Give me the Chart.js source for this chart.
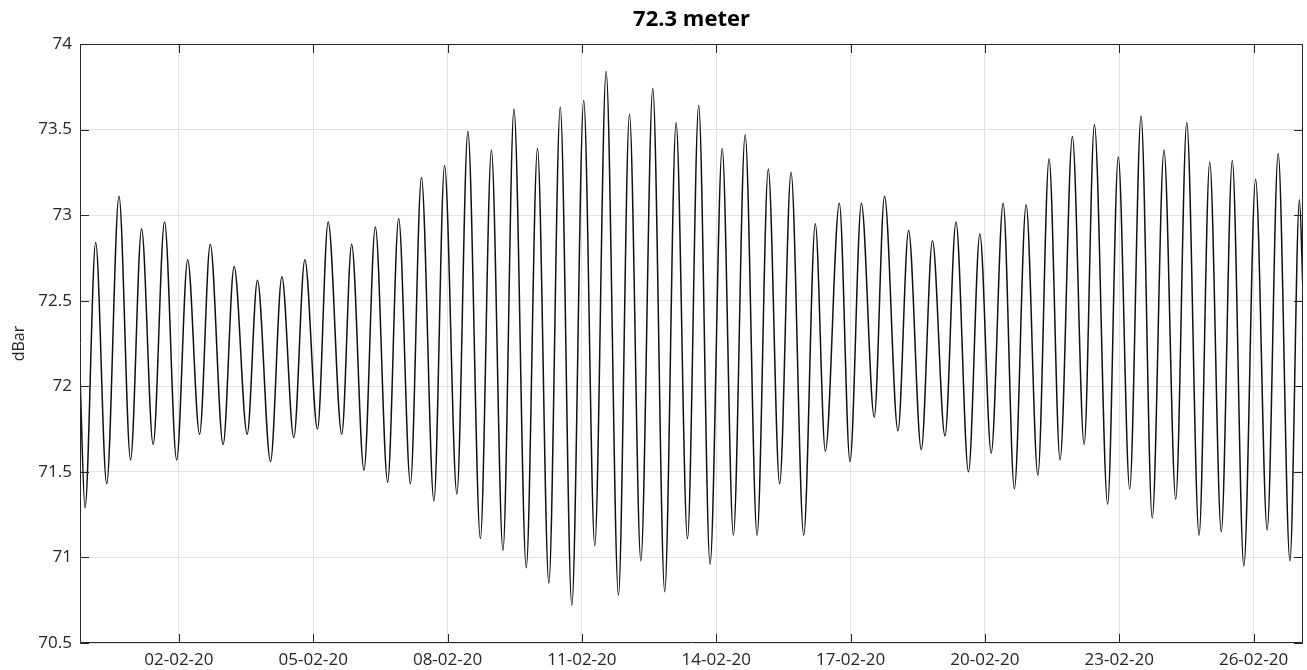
<!DOCTYPE html>
<html>
<head>
<meta charset="utf-8">
<script src="https://cdn.jsdelivr.net/npm/chart.js@4"></script>
<style>
  html, body { margin: 0; padding: 0; background: #fff; }
  #wrap { width: 1307px; height: 670px; }
</style>
</head>
<body>
<div id="wrap"><canvas id="c" width="1307" height="670"></canvas></div>
<script>
// Time of each high / low water, hours since 2020-01-30 00:00
const times = [
  19.0, 21.7, 27.4, 33.3, 39.9, 46.1, 52.0, 58.2, 64.3, 70.8,
  76.7, 83.1, 88.8, 95.7, 101.6, 108.6, 114.1, 121.1, 127.2, 133.6,
  139.5, 146.3, 152.0, 159.3, 164.6, 171.2, 177.3, 183.9, 189.8, 196.1,
  202.0, 208.7, 214.4, 221.0, 226.9, 233.6, 239.5, 245.7, 251.6, 258.2,
  264.2, 270.3, 276.4, 282.6, 289.0, 294.9, 301.0, 307.6, 313.5, 319.6,
  326.0, 332.4, 338.5, 344.6, 350.6, 356.7, 363.2, 369.2, 375.5, 381.9,
  387.9, 394.0, 400.1, 406.9, 413.1, 418.5, 426.0, 431.7, 437.8, 444.7,
  450.2, 457.4, 463.1, 469.9, 475.9, 482.6, 488.5, 495.2, 501.3, 507.4,
  513.8, 519.8, 526.1, 532.4, 538.4, 544.3, 550.9, 557.2, 562.7, 569.8,
  575.5, 581.6, 587.7, 593.7, 600.0, 606.3, 612.2, 618.8, 624.5, 630.7,
  636.6, 642.8, 649.1, 655.3, 661.2, 667.5, 672.6, 674.5
];
// Pressure (dBar) at those times
const pressure = [
  72.06, 71.29, 72.84, 71.43, 73.11, 71.57, 72.92, 71.66, 72.96, 71.57,
  72.74, 71.72, 72.83, 71.66, 72.70, 71.72, 72.62, 71.56, 72.64, 71.70,
  72.74, 71.75, 72.96, 71.72, 72.83, 71.51, 72.93, 71.44, 72.98, 71.43,
  73.22, 71.33, 73.29, 71.37, 73.49, 71.11, 73.38, 71.04, 73.62, 70.94,
  73.39, 70.85, 73.63, 70.72, 73.67, 71.07, 73.84, 70.78, 73.59, 70.98,
  73.74, 70.80, 73.54, 71.11, 73.64, 70.96, 73.39, 71.13, 73.47, 71.13,
  73.27, 71.43, 73.25, 71.13, 72.95, 71.62, 73.07, 71.56, 73.07, 71.82,
  73.11, 71.74, 72.91, 71.63, 72.85, 71.71, 72.96, 71.50, 72.89, 71.61,
  73.07, 71.40, 73.06, 71.48, 73.33, 71.57, 73.46, 71.66, 73.53, 71.31,
  73.34, 71.40, 73.58, 71.23, 73.38, 71.34, 73.54, 71.13, 73.31, 71.15,
  73.32, 70.95, 73.21, 71.16, 73.36, 70.98, 73.09, 72.55
];
// X tick positions (hours since 2020-01-30 00:00) and their labels
const tickHours  = [72, 144, 216, 288, 360, 432, 504, 576, 648];
const tickLabels = ['02-02-20','05-02-20','08-02-20','11-02-20','14-02-20','17-02-20','20-02-20','23-02-20','26-02-20'];
const titleText = '72.3 meter';
const yTitle = 'dBar';

const FONT = "'Open Sans', 'DejaVu Sans', sans-serif";
const AXIS_COLOR = '#262626';
const TICK_LEN = 9;

const boxPlugin = {
  id: 'matlabBox',
  afterDatasetsDraw(chart) {
    const ctx = chart.ctx;
    const a = chart.chartArea;
    const xs = chart.scales.x, ys = chart.scales.y;
    ctx.save();
    ctx.strokeStyle = AXIS_COLOR;
    ctx.lineWidth = 1;
    ctx.beginPath();
    ctx.rect(Math.round(a.left) + 0.5, Math.round(a.top) + 0.5,
             Math.round(a.right - a.left) - 1, Math.round(a.bottom - a.top) - 1);
    ctx.stroke();
    ctx.beginPath();
    xs.ticks.forEach(t => {
      const px = Math.round(xs.getPixelForValue(t.value)) + 0.5;
      ctx.moveTo(px, a.bottom); ctx.lineTo(px, a.bottom - TICK_LEN);
      ctx.moveTo(px, a.top); ctx.lineTo(px, a.top + TICK_LEN);
    });
    ys.ticks.forEach(t => {
      const py = Math.round(ys.getPixelForValue(t.value)) + 0.5;
      ctx.moveTo(a.left, py); ctx.lineTo(a.left + TICK_LEN, py);
      ctx.moveTo(a.right, py); ctx.lineTo(a.right - TICK_LEN, py);
    });
    ctx.stroke();
    ctx.restore();
  }
};

new Chart(document.getElementById('c'), {
  type: 'line',
  data: {
    datasets: [{
      data: times.map((t, i) => ({ x: t, y: pressure[i] })),
      borderColor: '#111111',
      borderWidth: 1.5,
      pointRadius: 0,
      fill: false,
      cubicInterpolationMode: 'monotone'
    }]
  },
  options: {
    responsive: false,
    animation: false,
    devicePixelRatio: 1,
    layout: { padding: { left: 0, right: 4, top: 0, bottom: 0 } },
    plugins: {
      legend: { display: false },
      tooltip: { enabled: false },
      title: {
        display: true,
        fullSize: false,
        text: titleText,
        color: '#000',
        font: { family: FONT, size: 22, weight: 'bold' },
        padding: { top: 7, bottom: 10.6 }
      }
    },
    scales: {
      x: {
        type: 'linear',
        min: 19.0,
        max: 674.5,
        afterBuildTicks: s => { s.ticks = tickHours.map(v => ({ value: v })); },
        afterFit: s => { s.height = 27; },
        ticks: {
          autoSkip: false,
          maxRotation: 0,
          padding: 7,
          color: AXIS_COLOR,
          font: { family: FONT, size: 17 },
          callback: v => { const i = tickHours.indexOf(v); return i >= 0 ? tickLabels[i] : ''; }
        },
        grid: { color: '#e2e2e2', lineWidth: 1, drawTicks: false },
        border: { display: false }
      },
      y: {
        min: 70.5,
        max: 74,
        afterFit: s => { s.width = 80; },
        ticks: {
          stepSize: 0.5,
          padding: 8,
          color: AXIS_COLOR,
          font: { family: FONT, size: 17 },
          callback: v => String(Number(Number(v).toFixed(2)))
        },
        title: {
          display: true,
          text: yTitle,
          color: AXIS_COLOR,
          font: { family: FONT, size: 16 },
          padding: { top: 10, bottom: 0 }
        },
        grid: { color: '#e2e2e2', lineWidth: 1, drawTicks: false },
        border: { display: false }
      }
    }
  },
  plugins: [boxPlugin]
});
</script>
</body>
</html>
